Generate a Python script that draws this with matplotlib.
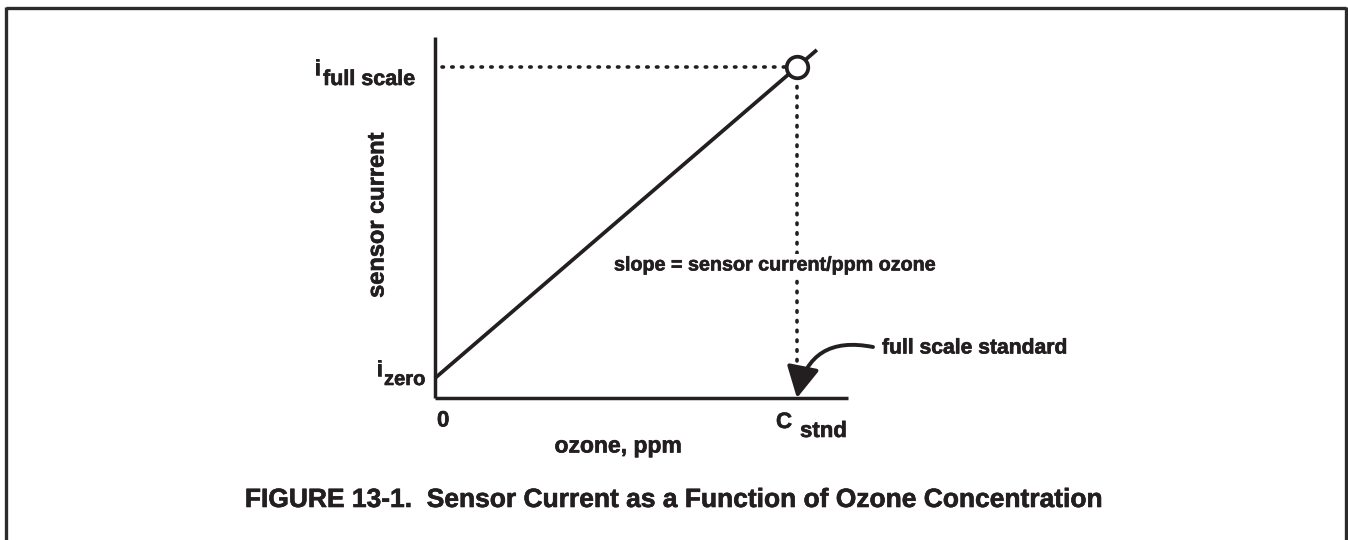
import matplotlib.pyplot as plt
import matplotlib.patheffects as pe
from matplotlib.lines import Line2D
from matplotlib.patches import FancyArrowPatch

# calibration line: zero point, span standard, and a short run past the span
ozone_ppm = [0.0, 1.0, 1.055]
sensor_current = [0.06, 1.0, 1.052]
c_stnd = 1.0
i_full = 1.0

INK = '#231f20'
W, H = 1348, 540
plt.rcParams['font.family'] = ['Liberation Sans', 'DejaVu Sans']
plt.rcParams['font.weight'] = 'bold'

fig = plt.figure(figsize=(W / 100, H / 100), dpi=100)
fig.patch.set_facecolor('white')

# slightly heavier strokes for the lettering
heavy = [pe.withStroke(linewidth=0.45, foreground=INK)]


def fx(x):
    return x / W


def fy(y):
    return 1 - y / H


def label(x, y, s, size=15.5, **kw):
    kw.setdefault('va', 'center')
    kw.setdefault('ha', 'left')
    return fig.text(fx(x), fy(y), s, fontsize=size, color=INK,
                    path_effects=heavy, **kw)


# axes box placed in figure pixels
ax = fig.add_axes([fx(435), fy(398), (848 - 435) / W, (398 - 37) / H])
ax.set_xlim(0, 1.141)
ax.set_ylim(0, 1.091)
for side in ['top', 'right']:
    ax.spines[side].set_visible(False)
for side in ['left', 'bottom']:
    ax.spines[side].set_linewidth(2.5)
    ax.spines[side].set_color(INK)
    ax.spines[side].set_capstyle('butt')
ax.set_xticks([])
ax.set_yticks([])
ax.patch.set_alpha(0)

# response line
ax.plot(ozone_ppm, sensor_current, color=INK, lw=2.7, solid_capstyle='butt',
        clip_on=False, zorder=3)

# dotted guides to the full scale point
dots = dict(color=INK, lw=2.6, linestyle=(0, (0.4, 2.3)), dash_capstyle='round',
            clip_on=False, zorder=2)
ax.plot([0.02, c_stnd], [i_full, i_full], **dots)
ax.plot([c_stnd, c_stnd], [i_full, 0.02], **dots)

# full scale point
ax.plot([c_stnd], [i_full], marker='o', ms=15.5, mfc='white', mec=INK, mew=2.7,
        clip_on=False, zorder=4)

# curved arrow to the standard on the x axis
arrow = FancyArrowPatch((873, H - 347), ax.transData.transform((c_stnd, 0)),
                        transform=None,
                        connectionstyle='arc3,rad=0.5',
                        arrowstyle='-|>,head_length=0.95,head_width=0.5',
                        mutation_scale=20, color=INK, lw=2.8, zorder=5,
                        shrinkA=0, shrinkB=0)
fig.add_artist(arrow)

# texts
label(614, 265, 'slope = sensor current/ppm ozone', size=14.2,
      bbox=dict(facecolor='white', edgecolor='none', pad=1))
label(882, 348, 'full scale standard', size=15.2)
label(377, 215, 'sensor current', size=17, rotation=90, ha='center')
label(618, 446, 'ozone, ppm', size=16.5, ha='center')
label(437, 421, '0', size=16)

# labels with subscripts
label(314, 75, 'i', size=16, va='baseline')
label(323, 85, 'full scale', va='baseline')
label(376, 376, 'i', size=16, va='baseline')
label(384, 385, 'zero', size=14.5, va='baseline')
label(776, 428, 'C', size=16, va='baseline')
label(800, 437, 'stnd', size=16, va='baseline')

label(674, 500,
      'FIGURE 13-1.  Sensor Current as a Function of Ozone Concentration',
      size=19, ha='center')

# frame around the figure: top, left and right edges
frame = dict(color='#2b2b2b', lw=2.4, solid_capstyle='butt')
fig.add_artist(Line2D([fx(6), fx(1346)], [fy(8), fy(8)], **frame))
fig.add_artist(Line2D([fx(6), fx(6)], [fy(7), 0], **frame))
fig.add_artist(Line2D([fx(1346), fx(1346)], [fy(7), 0], **frame))

fig.savefig('out.png', dpi=100)
